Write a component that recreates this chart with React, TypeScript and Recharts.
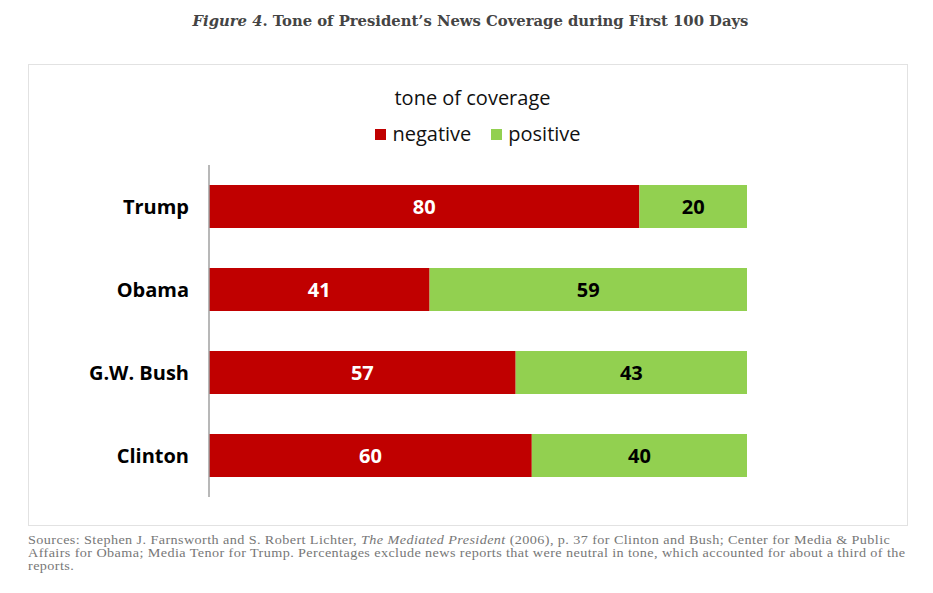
import React from 'react';
import { BarChart, Bar, XAxis, YAxis, LabelList } from 'recharts';

const presidents = ['Trump', 'Obama', 'G.W. Bush', 'Clinton'];
const negative = [80, 41, 57, 60];
const positive = [20, 59, 43, 40];
const seriesNames = ['negative', 'positive'];
const seriesColors = ['#C00000', '#92D050'];

const data = presidents.map((p, i) => ({ name: p, negative: negative[i], positive: positive[i] }));

const sans = '"Open Sans", "Noto Sans", sans-serif';

const LegendBlock = () => (
  <div style={{ position: 'absolute', left: 0, top: 85, width: 933, fontFamily: sans, textAlign: 'center', color: '#111' }}>
    <div style={{ fontSize: 20, lineHeight: '26px', marginLeft: 12 }}>tone of coverage</div>
    <div style={{ fontSize: 20, lineHeight: '26px', marginTop: 10, marginLeft: 23 }}>
      {seriesNames.map((n, i) => (
        <span key={n} style={{ marginRight: i === 0 ? 20 : 0 }}>
          <span style={{ display: 'inline-block', width: 11, height: 11, background: seriesColors[i], marginRight: 6, verticalAlign: 'middle', position: 'relative', top: -1 }} />
          {n}
        </span>
      ))}
    </div>
  </div>
);

const footLine: React.CSSProperties = { whiteSpace: 'nowrap', height: 13, lineHeight: '13px', transform: 'scaleX(1.224)', transformOrigin: 'left center' };

export default function App() {
  return (
    <div style={{ position: 'absolute', left: 0, top: 0, width: 933, height: 593, background: '#fff' }}>
      <div style={{ position: 'absolute', left: 0, width: 933, top: 12, textAlign: 'center', fontFamily: '"DejaVu Serif", serif', fontWeight: 'bold', fontSize: 14.8, color: '#444', marginLeft: 4 }}>
        <i>Figure 4</i>. Tone of President’s News Coverage during First 100 Days
      </div>
      <div style={{ position: 'absolute', left: 28, top: 64, width: 878, height: 460, border: '1px solid #e2e2e2' }} />
      <LegendBlock />
      <div style={{ position: 'absolute', left: 0, top: 0 }}>
        <BarChart width={933} height={593} data={data} layout="vertical" margin={{ top: 165, right: 186, bottom: 96, left: 59 }} barSize={43}>
          <XAxis type="number" domain={[0, 100]} hide />
          <YAxis type="category" dataKey="name" width={150} axisLine={{ stroke: '#a0a0a0', strokeWidth: 1.5 }} tickLine={false} tickSize={0} tickMargin={20}
            tick={{ fill: '#000', fontFamily: sans, fontWeight: 700, fontSize: 20 }} />
          <Bar dataKey="negative" stackId="a" fill={seriesColors[0]} isAnimationActive={false}>
            <LabelList dataKey="negative" position="center" fill="#fff" style={{ fontFamily: sans, fontWeight: 700, fontSize: 20 }} />
          </Bar>
          <Bar dataKey="positive" stackId="a" fill={seriesColors[1]} isAnimationActive={false}>
            <LabelList dataKey="positive" position="center" fill="#000" style={{ fontFamily: sans, fontWeight: 700, fontSize: 20 }} />
          </Bar>
        </BarChart>
      </div>
      <div style={{ position: 'absolute', left: 28, top: 534, fontFamily: '"Liberation Serif", serif', fontSize: 11.6, letterSpacing: 0.33, color: '#777' }}>
        <div style={footLine}>Sources: Stephen J. Farnsworth and S. Robert Lichter, <i>The Mediated President</i> (2006), p. 37 for Clinton and Bush; Center for Media &amp; Public</div>
        <div style={footLine}>Affairs for Obama; Media Tenor for Trump. Percentages exclude news reports that were neutral in tone, which accounted for about a third of the</div>
        <div style={footLine}>reports.</div>
      </div>
    </div>
  );
}
